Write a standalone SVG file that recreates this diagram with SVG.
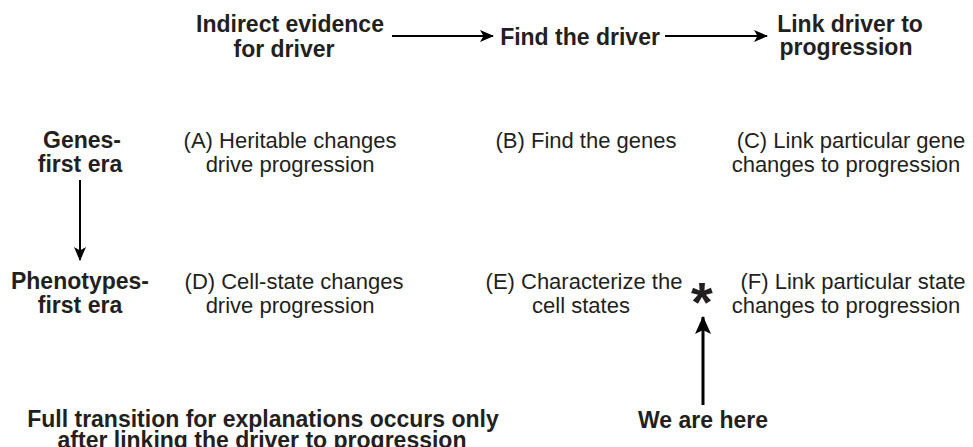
<svg xmlns="http://www.w3.org/2000/svg" width="973" height="447" viewBox="0 0 973 447">
<style>
text{font-family:"Liberation Sans",Arial,sans-serif;fill:#231f20;text-anchor:middle}
.b{font-weight:bold;font-size:23px}
.r{font-size:22px}
.c{stroke:#000;stroke-width:2;fill:none}
.k{stroke:#000;stroke-width:3;fill:none}
</style>
<defs>
<marker id="ah" viewBox="0 0 14 12" refX="13" refY="6" markerWidth="14" markerHeight="12" markerUnits="userSpaceOnUse" orient="auto">
<path d="M0,0 L14,6 L0,12 L3.5,6 Z" fill="#000"/>
</marker>
<marker id="ahk" viewBox="0 0 18 16" refX="17" refY="8" markerWidth="18" markerHeight="16" markerUnits="userSpaceOnUse" orient="auto">
<path d="M0,0 L18,8 L0,16 L4,8 Z" fill="#000"/>
</marker>
</defs>
<g id="connectors">
<line class="c" x1="392" y1="36" x2="493" y2="36" marker-end="url(#ah)"/>
<line class="c" x1="665" y1="36" x2="767" y2="36" marker-end="url(#ah)"/>
<line class="c" x1="80" y1="180" x2="80" y2="260" marker-end="url(#ah)"/>
<line class="k" x1="703" y1="405" x2="703" y2="317" marker-end="url(#ahk)"/>
</g>
<g id="header-indirect"><text class="b" x="290" y="32">Indirect evidence</text><text class="b" x="284" y="57">for driver</text></g>
<g id="header-find"><text class="b" x="580" y="45">Find the driver</text></g>
<g id="header-link"><text class="b" x="850" y="32">Link driver to</text><text class="b" x="846" y="55">progression</text></g>
<g id="genes-era"><text class="b" x="82" y="148">Genes-</text><text class="b" x="80" y="172">first era</text></g>
<g id="pheno-era"><text class="b" x="80" y="289">Phenotypes-</text><text class="b" x="80" y="313">first era</text></g>
<g id="A"><text class="r" x="290" y="148">(A) Heritable changes</text><text class="r" x="290" y="172">drive progression</text></g>
<g id="B"><text class="r" x="586" y="148">(B) Find the genes</text></g>
<g id="C"><text class="r" x="851" y="148">(C) Link particular gene</text><text class="r" x="846" y="172">changes to progression</text></g>
<g id="D"><text class="r" x="294" y="289">(D) Cell-state changes</text><text class="r" x="290" y="313">drive progression</text></g>
<g id="E"><text class="r" x="584" y="289">(E) Characterize the</text><text class="r" x="581" y="313">cell states</text></g>
<g id="F"><text class="r" x="853" y="289">(F) Link particular state</text><text class="r" x="846" y="313">changes to progression</text></g>
<g id="asterisk"><text class="b" x="702" y="321" style="font-size:56px">*</text></g>
<g id="we-are-here"><text class="b" x="703" y="428">We are here</text></g>
<g id="note"><text class="b" x="263" y="427">Full transition for explanations occurs only</text><text class="b" x="262" y="448">after linking the driver to progression</text></g>
</svg>
